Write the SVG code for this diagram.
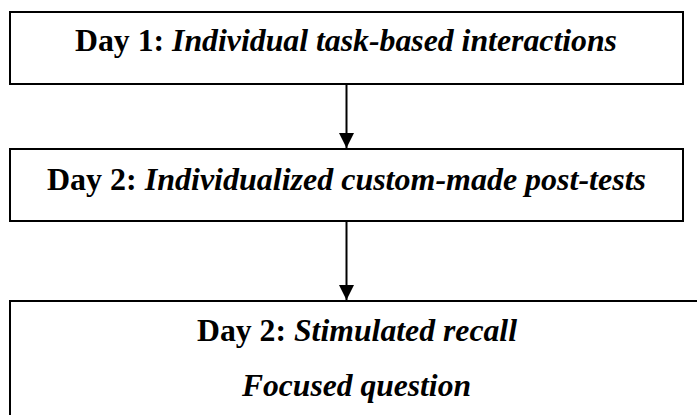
<svg xmlns="http://www.w3.org/2000/svg" width="697" height="415" viewBox="0 0 697 415">
<style>
.box{fill:#fff;stroke:#000;stroke-width:2}
.t{font-family:"Liberation Serif","Times New Roman",serif;font-size:31px;font-weight:bold;fill:#000;text-anchor:middle}
.i{font-style:italic}
.conn{stroke:#000;stroke-width:2;fill:none}
</style>
<defs>
<marker id="ah" markerUnits="userSpaceOnUse" markerWidth="16" markerHeight="16" viewBox="0 0 16 16" refX="15" refY="8" orient="auto">
<path d="M0,0.5 L15,8 L0,15.5 Z" fill="#000"/>
</marker>
</defs>
<rect width="697" height="415" fill="#fff"/>
<g id="connectors">
<line class="conn" x1="346.5" y1="84" x2="346.5" y2="148" marker-end="url(#ah)"/>
<line class="conn" x1="346.5" y1="221" x2="346.5" y2="300" marker-end="url(#ah)"/>
</g>
<g id="node1">
<rect class="box" x="10" y="12" width="673" height="72"/>
<text class="t" x="346" y="51" textLength="542" lengthAdjust="spacingAndGlyphs">Day 1: <tspan class="i">Individual task-based interactions</tspan></text>
</g>
<g id="node2">
<rect class="box" x="10" y="149" width="673" height="72"/>
<text class="t" x="346.5" y="190" textLength="599" lengthAdjust="spacingAndGlyphs">Day 2: <tspan class="i">Individualized custom-made post-tests</tspan></text>
</g>
<g id="node3">
<rect class="box" x="10" y="301" width="700" height="130"/>
<text class="t" x="357" y="341" textLength="320" lengthAdjust="spacingAndGlyphs">Day 2: <tspan class="i">Stimulated recall</tspan></text>
<text class="t i" x="356.5" y="396" textLength="229" lengthAdjust="spacingAndGlyphs">Focused question</text>
</g>
</svg>
